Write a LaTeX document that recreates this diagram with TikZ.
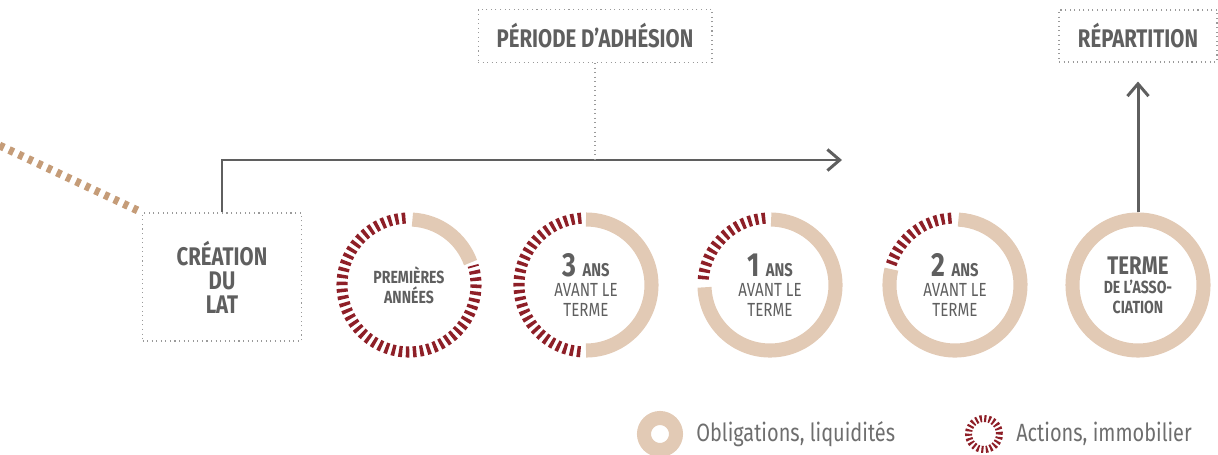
\documentclass[tikz,border=0pt]{standalone}
\usepackage{fontspec}
\setmainfont{Fira Sans}[FakeStretch=0.8]
\usetikzlibrary{arrows.meta}
\usetikzlibrary{positioning}
\definecolor{txtgray}{HTML}{5F5F5F}
\definecolor{leggray}{HTML}{6E6E6E}
\definecolor{dotgray}{HTML}{9A9A9A}
\definecolor{beige}{HTML}{E2CAB5}
\definecolor{wine}{HTML}{8E1F27}
\definecolor{tanline}{HTML}{C59C78}

\begin{document}
\begin{tikzpicture}[x=0.02cm,y=0.02cm,
	every node/.style={text=txtgray,align=center},
	dotbox/.style={draw=dotgray,dotted,line width=0.6pt,inner sep=0pt,font=\bfseries\fontsize{14.5}{13.7}\selectfont},
	axis/.style={draw=txtgray,line width=1.7pt,-{Straight Barb[length=7pt,width=12pt,line width=1.7pt]}},
	ring/.style={circle,minimum size=2.9cm,inner sep=0pt},
	years/.style={ring,font=\fontsize{10.8}{11.4}\selectfont},
	bond/.style={draw=beige,line width=8pt},
	stock/.style={draw=wine,line width=6.3pt,dash pattern=on 2pt off 2pt},
	legend/.style={text=leggray,font=\fontsize{14.2}{16}\selectfont},
	]
	\useasboundingbox (0,0) rectangle (1218,-454);

	% boxes
	\node[dotbox,minimum width=3.18cm,minimum height=2.56cm] (lat) at (222,-277) {CRÉATION\\DU\\LAT};
	\node[dotbox,minimum width=4.68cm,minimum height=1.06cm] (adh) at (595,-36) {PÉRIODE D’ADHÉSION};
	\node[dotbox,minimum width=3.16cm,minimum height=1.04cm] (rep) at (1138,-36) {RÉPARTITION};

	% rings
	\node[ring,font=\bfseries\fontsize{10}{11.4}\selectfont] (r1) at (409,-285) {PREMIÈRES\\ANNÉES};
	\node[years] (r2) at (586,-285) {
		{\bfseries\fontsize{19}{12}\selectfont 3 \fontsize{10.5}{12}\selectfont ANS}\\AVANT LE\\TERME
	};
	\node[years] (r3) at (770,-285) {
		{\bfseries\fontsize{19}{12}\selectfont 1 \fontsize{10.5}{12}\selectfont ANS}\\AVANT LE\\TERME
	};
	\node[years] (r4) at (955,-285) {
		{\bfseries\fontsize{19}{12}\selectfont 2 \fontsize{10.5}{12}\selectfont ANS}\\AVANT LE\\TERME
	};
	\node[ring,font=\bfseries\fontsize{10}{11}\selectfont] (r5) at (1138,-285) {
		{\fontsize{14.5}{12}\selectfont TERME}\\DE L’ASSO-\\CIATION
	};

	\draw[bond] (r1.center) ++(20:65.5) arc[start angle=20,end angle=87,radius=65.5];
	\draw[stock] (r1.center) ++(93:67) arc[start angle=93,end angle=377,radius=67];
	\draw[bond] (r2.center) ++(-90:65.5) arc[start angle=-90,end angle=90,radius=65.5];
	\draw[stock] (r2.center) ++(94:67) arc[start angle=94,end angle=266,radius=67];
	\draw[bond] (r3.center) ++(-178:65.5) arc[start angle=-178,end angle=89,radius=65.5];
	\draw[stock] (r3.center) ++(94:67) arc[start angle=94,end angle=177,radius=67];
	\draw[bond] (r4.center) ++(-194:65.5) arc[start angle=-194,end angle=87,radius=65.5];
	\draw[stock] (r4.center) ++(93:67) arc[start angle=93,end angle=162,radius=67];
	\draw[bond] (r5.center) circle[radius=65.5];

	% timeline
	\coordinate (tend) at (842,-160);
	\coordinate (past) at (-10,-141);
	\draw[axis] (lat.north) |- (tend);
	\draw[dotgray,dotted,line width=0.6pt] (adh.south) -- (adh.south |- tend);
	\draw[axis] (r5.north) -- ([yshift=-0.38cm]rep.south);
	\draw[tanline,line width=4.5pt,dash pattern=on 2.8pt off 3.2pt] (past) -- (lat.north west);

	% legend
	\node[circle,draw=beige,line width=8pt,minimum size=0.64cm,inner sep=0pt] (leg1) at (660,-434) {};
	\node[legend,right=4pt of leg1] (leg1t) {Obligations, liquidités};
	\node[circle,draw=wine,line width=4pt,dash pattern=on 1.2pt off 1.3pt,minimum size=0.62cm,inner sep=0pt] (leg2) at (984,-434) {};
	\node[legend,right=4pt of leg2] (leg2t) {Actions, immobilier};
\end{tikzpicture}
\end{document}
